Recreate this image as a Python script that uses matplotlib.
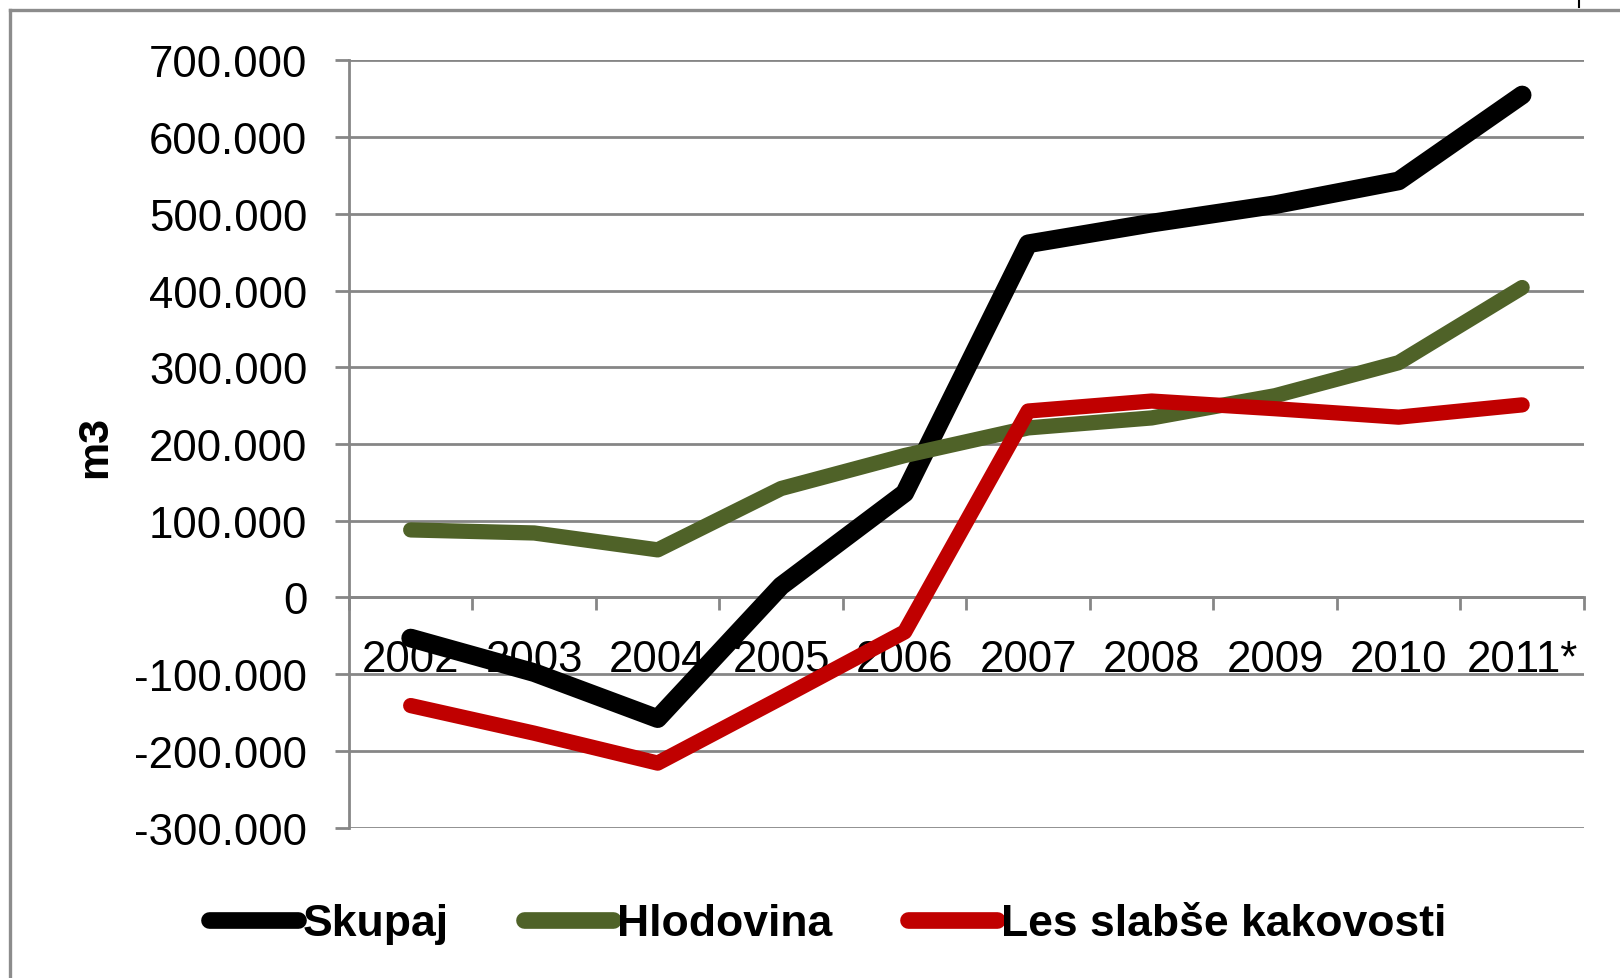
import matplotlib
matplotlib.use("Agg")
import matplotlib.pyplot as plt
from matplotlib.lines import Line2D
from matplotlib.ticker import FixedLocator, FuncFormatter

# data (m3)
years = ["2002", "2003", "2004", "2005", "2006", "2007", "2008", "2009", "2010", "2011*"]
skupaj = [-53000, -98000, -158000, 15000, 136000, 461000, 488000, 512000, 543000, 655000]
hlodovina = [88000, 84000, 62000, 142000, 185000, 221000, 234000, 263000, 306000, 404000]
les = [-141000, -177000, -216000, -131000, -45000, 243000, 256000, 246000, 235000, 251000]
names = ["Skupaj", "Hlodovina", "Les slabše kakovosti"]
yTicks = list(range(-300000, 700001, 100000))

plt.rcParams["font.family"] = ["Liberation Sans", "DejaVu Sans"]

colors = ["#000000", "#4F6228", "#C00000"]
widths = [13.5, 11, 11]
gray = "#868686"
sizeAxis = 31.5

fig = plt.figure(figsize=(16.2, 9.79), dpi=100)
ax = fig.add_axes([0.2154, 0.1537, 0.7623, 0.7835])

x = list(range(len(years)))
for i, serie in enumerate([skupaj, hlodovina, les]):
    ax.plot(x, serie, color=colors[i], lw=widths[i], solid_capstyle="round",
            solid_joinstyle="round", zorder=3 + i, label=names[i])

ax.set_xlim(-0.5, len(years) - 0.5)
ax.set_ylim(-300000, 700000)

# y axis
ax.yaxis.set_major_locator(FixedLocator(yTicks))
ax.yaxis.set_major_formatter(FuncFormatter(lambda v, p: "{:,.0f}".format(v).replace(",", ".")))
ax.tick_params(axis="y", direction="out", length=10, width=2, color=gray,
               labelsize=sizeAxis, pad=20)
ax.grid(axis="y", color=gray, lw=2)
ax.set_axisbelow(True)

# x axis on the zero line, ticks between categories
ax.spines["bottom"].set_position(("data", 0))
ax.spines["bottom"].set_color(gray)
ax.spines["bottom"].set_linewidth(2)
ax.spines["left"].set_color(gray)
ax.spines["left"].set_linewidth(2)
ax.spines["top"].set_visible(False)
ax.spines["right"].set_visible(False)
ax.set_xticks([i - 0.5 for i in range(len(years) + 1)])
ax.set_xticklabels([])
ax.set_xticks(x, minor=True)
ax.set_xticklabels(years, minor=True)
ax.tick_params(axis="x", which="major", direction="out", length=9, width=2, color=gray)
ax.tick_params(axis="x", which="minor", length=0, labelsize=sizeAxis, pad=30)

fig.text(95 / 1620, 1 - 447 / 979, "m3", rotation=90, fontsize=31, fontweight="bold",
         ha="center", va="center")

# legend
handles = [Line2D([], [], color=colors[i], lw=12, solid_capstyle="round") for i in range(3)]
fig.legend(handles, names, loc="center left", bbox_to_anchor=(0.129, 1 - 925 / 979),
           ncol=3, frameon=False, handlelength=2.0, handletextpad=0.1, columnspacing=1.7,
           borderpad=0, borderaxespad=0, prop={"size": 32, "weight": "bold"})

# outer chart frame (only top and left edges visible)
fig.add_artist(Line2D([10 / 1620, 10 / 1620], [0, 1 - 11 / 979], color="#8C8C8C", lw=2.4,
                      transform=fig.transFigure))
fig.add_artist(Line2D([10 / 1620, 1], [1 - 11 / 979, 1 - 11 / 979], color="#8C8C8C", lw=2.4,
                      transform=fig.transFigure))
fig.add_artist(Line2D([1579 / 1620, 1579 / 1620], [1, 1 - 8 / 979], color="black", lw=1.5,
                      transform=fig.transFigure))

plt.savefig("out.png", dpi=100)
plt.close()
